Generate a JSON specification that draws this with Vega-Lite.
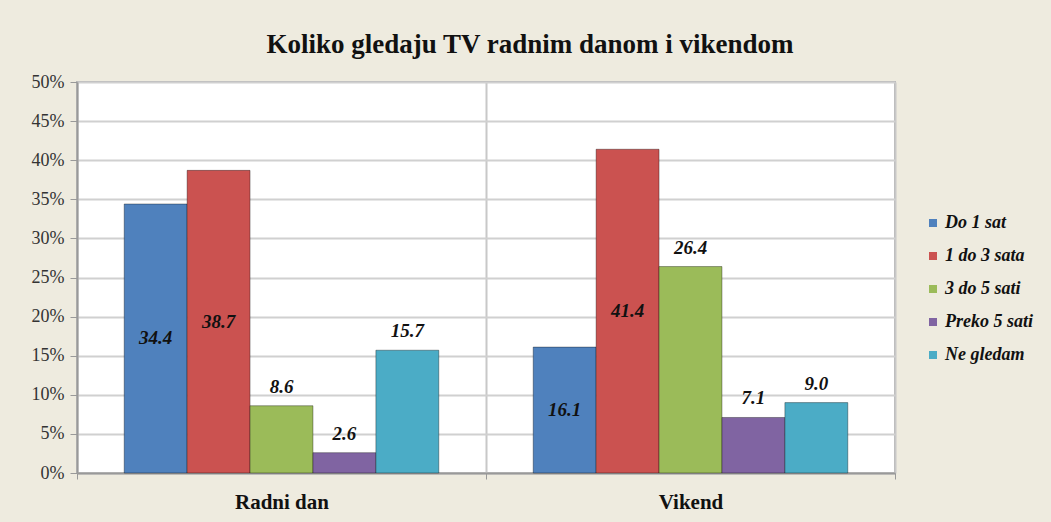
{
  "$schema": "https://vega.github.io/schema/vega-lite/v6.json",
  "width": 818,
  "height": 391,
  "autosize": "none",
  "padding": {"left": 77, "top": 82, "right": 156, "bottom": 49},
  "background": "#eeebdf",
  "title": {
    "text": "Koliko gledaju TV radnim danom i vikendom",
    "font": "Liberation Serif",
    "fontSize": 27,
    "fontWeight": "bold",
    "color": "#111111",
    "anchor": "middle",
    "offset": 14,
    "dx": 44
  },
  "config": {
    "view": {"fill": "white", "stroke": "#b5b5b5", "strokeWidth": 2},
    "axisY": {
      "title": null,
      "labelOverlap": false,
      "labelFont": "Liberation Serif",
      "labelFontSize": 18,
      "labelColor": "#333333",
      "labelPadding": 6,
      "domainColor": "#999999",
      "domainWidth": 2,
      "tickColor": "#999999",
      "tickSize": 7,
      "gridColor": "#d0d0d0",
      "gridWidth": 2
    }
  },
  "data": {
    "values": [
      {"group": "Radni dan", "cat": "Do 1 sat", "value": 34.4},
      {"group": "Radni dan", "cat": "1 do 3 sata", "value": 38.7},
      {"group": "Radni dan", "cat": "3 do 5 sati", "value": 8.6},
      {"group": "Radni dan", "cat": "Preko 5 sati", "value": 2.6},
      {"group": "Radni dan", "cat": "Ne gledam", "value": 15.7},
      {"group": "Vikend", "cat": "Do 1 sat", "value": 16.1},
      {"group": "Vikend", "cat": "1 do 3 sata", "value": 41.4},
      {"group": "Vikend", "cat": "3 do 5 sati", "value": 26.4},
      {"group": "Vikend", "cat": "Preko 5 sati", "value": 7.1},
      {"group": "Vikend", "cat": "Ne gledam", "value": 9.0}
    ]
  },
  "encoding": {
    "x": {
      "field": "group",
      "type": "nominal",
      "sort": ["Radni dan", "Vikend"],
      "scale": {"paddingInner": 0, "paddingOuter": 0},
      "axis": {
        "title": null,
        "tickBand": "extent",
        "labelAngle": 0,
        "labelFont": "Liberation Serif",
        "labelFontSize": 21,
        "labelFontWeight": "bold",
        "labelColor": "#111111",
        "labelPadding": 12,
        "domainColor": "#999999",
        "domainWidth": 2,
        "tickColor": "#999999",
        "tickSize": 6,
        "grid": true,
        "gridColor": "#c8c8c8",
        "gridWidth": 2
      }
    },
    "xOffset": {
      "field": "cat",
      "type": "nominal",
      "sort": ["Do 1 sat", "1 do 3 sata", "3 do 5 sati", "Preko 5 sati", "Ne gledam"],
      "scale": {"paddingInner": 0, "paddingOuter": 0.75}
    }
  },
  "layer": [
    {
      "mark": {"type": "bar", "stroke": "#000000", "strokeOpacity": 0.35, "strokeWidth": 1},
      "encoding": {
        "y": {
          "field": "value",
          "type": "quantitative",
          "scale": {"domain": [0, 50], "nice": false},
          "axis": {"title": null, "values": [0, 5, 10, 15, 20, 25, 30, 35, 40, 45, 50], "labelExpr": "datum.value + '%'"}
        },
        "color": {
          "field": "cat",
          "type": "nominal",
          "sort": ["Do 1 sat", "1 do 3 sata", "3 do 5 sati", "Preko 5 sati", "Ne gledam"],
          "scale": {
            "domain": ["Do 1 sat", "1 do 3 sata", "3 do 5 sati", "Preko 5 sati", "Ne gledam"],
            "range": ["#4f81bd", "#cb5250", "#9bbb59", "#8064a2", "#4bacc6"]
          },
          "legend": {
            "title": null,
            "orient": "none",
            "legendX": 847,
            "legendY": 132,
            "symbolType": "square",
            "symbolSize": 64,
            "symbolStrokeWidth": 0,
            "labelFont": "Liberation Serif",
            "labelFontSize": 18,
            "labelFontWeight": "bold",
            "labelFontStyle": "italic",
            "labelColor": "#111111",
            "labelOffset": 3,
            "rowPadding": 15
          }
        }
      }
    },
    {
      "transform": [
        {"filter": "datum.cat == 'Do 1 sat' || datum.cat == '1 do 3 sata'"},
        {"calculate": "datum.value / 2", "as": "mid"}
      ],
      "mark": {
        "type": "text",
        "font": "Liberation Serif",
        "fontSize": 19,
        "fontWeight": "bold",
        "fontStyle": "italic",
        "color": "#111111",
        "baseline": "middle"
      },
      "encoding": {
        "y": {"field": "mid", "type": "quantitative", "axis": {"title": null, "values": [0, 5, 10, 15, 20, 25, 30, 35, 40, 45, 50], "labelExpr": "datum.value + '%'"}},
        "text": {"field": "value", "type": "quantitative", "format": ".1f"}
      }
    },
    {
      "transform": [{"filter": "datum.cat != 'Do 1 sat' && datum.cat != '1 do 3 sata'"}],
      "mark": {
        "type": "text",
        "font": "Liberation Serif",
        "fontSize": 19,
        "fontWeight": "bold",
        "fontStyle": "italic",
        "color": "#111111",
        "baseline": "bottom",
        "dy": -9
      },
      "encoding": {
        "y": {"field": "value", "type": "quantitative", "axis": {"title": null, "values": [0, 5, 10, 15, 20, 25, 30, 35, 40, 45, 50], "labelExpr": "datum.value + '%'"}},
        "text": {"field": "value", "type": "quantitative", "format": ".1f"}
      }
    }
  ]
}
